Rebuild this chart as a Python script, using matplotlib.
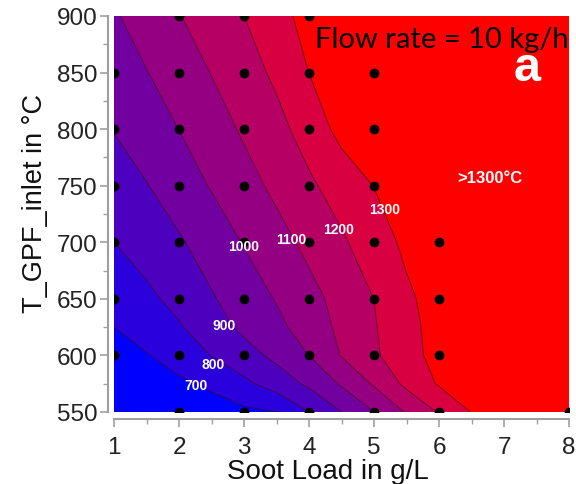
import matplotlib
matplotlib.use("Agg")
import matplotlib.pyplot as plt
import numpy as np
from matplotlib.ticker import MultipleLocator

plt.rcParams['font.family'] = ['Liberation Sans', 'DejaVu Sans']

# grid (soot load g/L, inlet temp degC) -> peak temp degC
soot = [1, 1.5, 2, 2.5, 3, 3.5, 4, 4.5, 5, 5.5, 6, 6.5, 7, 7.5, 8]
t_inlet = [550, 575, 600, 625, 650, 700, 750, 800, 850, 900]
t_peak = [
    [600, 620, 640, 660, 680, 700, 800, 900, 1000, 1110, 1209, 1304, 1330, 1350, 1370],
    [633, 657, 682, 716, 779, 845, 919, 1012, 1112, 1223, 1310, 1340, 1360, 1380, 1400],
    [667, 694, 745, 803, 862, 925, 1001, 1105, 1184, 1267, 1330, 1355, 1375, 1395, 1415],
    [700, 745, 791, 857, 922, 976, 1045, 1122, 1192, 1276, 1330, 1360, 1380, 1400, 1420],
    [733, 778, 830, 891, 949, 1006, 1069, 1133, 1201, 1283, 1340, 1370, 1390, 1410, 1430],
    [800, 845, 889, 945, 1006, 1065, 1125, 1186, 1253, 1320, 1360, 1390, 1410, 1430, 1450],
    [852, 896, 951, 1007, 1064, 1122, 1184, 1243, 1302, 1340, 1380, 1410, 1430, 1450, 1470],
    [904, 953, 1001, 1057, 1113, 1170, 1242, 1330, 1380, 1420, 1450, 1470, 1490, 1510, 1530],
    [955, 997, 1049, 1103, 1158, 1219, 1301, 1360, 1400, 1430, 1460, 1480, 1500, 1520, 1540],
    [990, 1043, 1096, 1148, 1200, 1267, 1333, 1400, 1450, 1480, 1500, 1520, 1540, 1560, 1580],
]
levels = [700, 800, 900, 1000, 1100, 1200, 1300]

# measurement points (black dots)
pts_x = [1, 1, 1, 1, 1, 1,
         2, 2, 2, 2, 2, 2, 2, 2,
         3, 3, 3, 3, 3, 3, 3, 3,
         4, 4, 4, 4, 4, 4, 4, 4,
         5, 5, 5, 5, 5, 5, 5,
         6, 6, 6, 6, 8]
pts_y = [600, 650, 700, 750, 800, 850,
         550, 600, 650, 700, 750, 800, 850, 900,
         550, 600, 650, 700, 750, 800, 850, 900,
         550, 600, 650, 700, 750, 800, 850, 900,
         550, 600, 650, 700, 750, 800, 850,
         550, 600, 650, 700, 550]

# contour label positions
lab_text = ['700', '800', '900', '1000', '1100', '1200', '1300']
lab_x = [2.26, 2.52, 2.69, 2.99, 3.73, 4.45, 5.17]
lab_y = [574, 592, 627, 697, 703, 712, 729]

band_colors = ['#0000ff', '#2a00dc', '#4d00be', '#7200a0', '#950082',
               '#b60064', '#d80040', '#ff0000']

fig = plt.figure(figsize=(5.76, 4.85), dpi=100)
ax = fig.add_axes([0.198, 0.1485, 0.790, 0.8165])

X, Y = np.meshgrid(soot, t_inlet)
Z = np.array(t_peak)
ax.contourf(X, Y, Z, levels=[0] + levels + [3000], colors=band_colors)
ax.contour(X, Y, Z, levels=levels, colors='#2a0a20', linewidths=0.6, alpha=0.75)

ax.scatter(pts_x, pts_y, s=36, color='black', zorder=5)

for t, x, y in zip(lab_text, lab_x, lab_y):
    ax.text(x, y, t, color='white', fontsize=10, fontweight='bold',
            ha='center', va='center', zorder=6)
ax.text(6.78, 757, '>1300°C', color='white', fontsize=12, fontweight='bold',
        ha='center', va='center', zorder=6)
ax.text(7.35, 843, 'a', color='white', fontsize=35, fontweight='bold',
        ha='center', va='baseline', zorder=6)
ax.text(7.99, 880, 'Flow rate = 10 kg/h', color='black', fontsize=21,
        family=['Lato', 'DejaVu Sans'], ha='right', va='center', zorder=7)

ax.set_xlim(1, 8)
ax.set_ylim(550, 900)
ax.xaxis.set_major_locator(MultipleLocator(1))
ax.xaxis.set_minor_locator(MultipleLocator(0.5))
ax.yaxis.set_major_locator(MultipleLocator(50))
ax.yaxis.set_minor_locator(MultipleLocator(25))

for s in ['top', 'right']:
    ax.spines[s].set_visible(False)
ax.spines['left'].set_position(('outward', 4))
ax.spines['bottom'].set_position(('outward', 5))
for s in ['left', 'bottom']:
    ax.spines[s].set_color('#a0a0a0')
    ax.spines[s].set_linewidth(1.5)

ax.tick_params(which='major', length=6, width=1.2, color='#a0a0a0',
               labelsize=17.5, labelcolor='#222222')
ax.tick_params(which='minor', length=3.5, width=1.0, color='#a0a0a0')
ax.tick_params(axis='x', pad=6)
ax.tick_params(axis='y', pad=2)

ax.set_xlabel('Soot Load in g/L', fontsize=20, color='#111111', labelpad=2)
ax.xaxis.set_label_coords(0.47, -0.115)
ax.set_ylabel('T_GPF_inlet in °C', fontsize=19.5, color='#111111')
ax.yaxis.set_label_coords(-0.145, 0.53)

fig.savefig('out.png', dpi=100)
